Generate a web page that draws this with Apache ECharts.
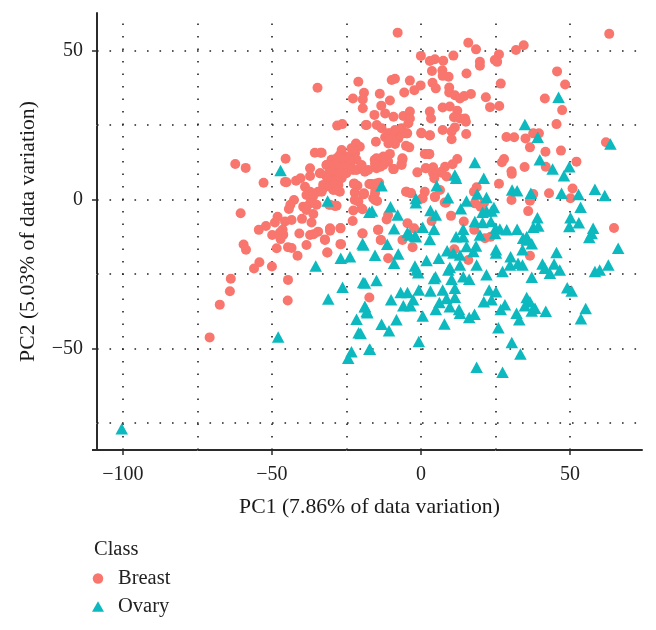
<!DOCTYPE html>
<html><head><meta charset="utf-8">
<style>html,body{margin:0;padding:0;background:#fff}#c{width:656px;height:630px}</style>
<script src="https://cdn.jsdelivr.net/npm/echarts@6/dist/echarts.min.js"></script>
</head><body><div id="c"></div>
<script>
const breast = [
[-34.7,37.5],[-21,39.5],[-19.1,35.8],[-22.8,33.9],[-19.5,33.6],[-19.5,30.6],[-28.1,24.8],[-26.4,25.3],[-18.5,25],[-62.3,11.9],[-58.8,10.6],[-45.4,13.7],[-52.8,5.6],[-45.6,5.9],[-45.1,5.8],[-60.5,-4.6],[-35.6,15.7],[-33.7,15.7],[-37.2,10.5],[-37.2,7.9],[-41.9,6.3],[-40.4,7.1],[-38.9,4.3],[-37.2,2.6],[-38.4,1.5],[-36.2,1],[-34.5,2.6],[-33.9,8.8],[-31.7,11.6],[-29.9,13.3],[-26.6,16.6],[-21.8,18.8],[-20.5,17.7],[-23.3,17.2],[-27.2,14.9],[-24.9,14.4],[-22.1,15.5],[-28.3,12.1],[-26.1,12.1],[-23.8,11.6],[-21.6,13.3],[-30.5,9.9],[-28.3,9.9],[-26.1,10.1],[-22.7,9.9],[-19.9,10.5],[-17.7,9.9],[-31.7,7.7],[-28.9,7.1],[-26.6,7.1],[-30.5,5.4],[-27.7,4.9],[-32.8,3.7],[-29.4,3.2],[-27.2,2.6],[-22.5,5.2],[-21.3,4.6],[-17.3,5.2],[-22.2,2.3],[-19.1,1.8],[-22.2,-0.2],[-21,-0.7],[-19.6,-3.3],[-22.7,-3.7],[-22.9,-7.2],[-19.6,-11.4],[-42.6,-0.2],[-43.8,-1.8],[-44.3,-3.2],[-39.5,-2.4],[-37.2,-1.3],[-35,-1.8],[-38.4,-3.5],[-36.1,-4.9],[-48.1,-5.8],[-49,-7.7],[-45.6,-7.4],[-43.4,-6.9],[-39.9,-6.5],[-36.7,-7.7],[-54.4,-10.2],[-52,-8.9],[-46.4,-10.2],[-47.3,-11.1],[-49.9,-11.9],[-40.8,-11.4],[-37.2,-11.9],[-34.5,-10.8],[-36,-11.7],[-30.5,-9.7],[-30.5,-10.5],[-27,-9.7],[-32.2,-13.4],[-30.8,-1.8],[-28.3,-2.1],
[-46.2,-11.8],[-47.1,-13.3],[-27,-15],[-48.4,-16.4],[-44.6,-16],[-43.4,-16.3],[-38.4,-15.3],[-41.4,-18.9],[-31.4,-17.8],[-59.5,-15.1],[-58.7,-16.9],[-54.2,-21.1],[-56,-23.2],[-50,-22.5],[-44.6,-27],[-63.8,-26.6],[-64.1,-30.8],[-67.5,-35.3],[-44.7,-33.9],[-70.9,-46.3],[-17.3,-32.9],
[-15.1,19.4],[-22.6,16.6],[-10.4,22.2],[-8.2,22.2],[-5.9,22.2],[-4.6,22.2],[-12,20.9],[-9.8,20.5],[-7.6,20.5],[-8.7,18.6],[-10.9,18.8],[-5,18],[-3.9,17.5],[0.2,22.2],[3,21.6],[1.9,15.3],[2.8,15.2],[-33.3,15.7],[-30,13.3],[-28.3,13.8],[-26,13.3],[-23.8,13.3],[-31.6,11.6],[-28.9,11.6],[-26,11],[-23.3,10.5],[-21.6,9.9],[-14.9,10.5],[-15.5,13.3],[-13.2,13.8],[-10.4,15.3],[-11,12.7],[-12.6,11.6],[-9.1,10.2],[-6.2,13.3],[-6.5,11.6],[-1.2,9.1],[1.7,10.5],[4.1,10.8],[6.9,9.3],[8.1,11],[-33.7,8.8],[-30.5,9.3],[-27.7,8.8],[-25,8.8],[-31.1,7.1],[-28.3,6.5],[-32.8,4.9],[-30.5,4.3],[-28.9,4.9],[-33.3,2.6],[-28.3,3.2],[-22.4,5.4],[-16.9,5.2],[-14,5.6],[-19.1,2.1],[-15.3,3.2],[-16,0.4],[-14.7,-0.5],[-19.9,-3],[-30.5,-1.8],[-28.9,-2.2],[-30.5,-9.9],[-32.2,-13.6],[-19.6,-11.4],[-14.4,-10.2],[-13.4,-13.6],[-11,-19.7],[-4.8,2.6],[-3.5,2.1],[1.3,2.6],[0.6,0.4],[4.7,0.9],[8.4,-1.1],
[-7.8,56],[63.2,55.6],[15.9,52.6],[18.5,50.4],[0,48.2],[10.9,48.3],[4.7,47.1],[3,46.5],[7.5,46.6],[31.9,50.2],[34.5,51.8],[26.2,48.7],[24.8,46.8],[25.6,46.2],[19.8,46.2],[19.8,44.9],[3.7,43.1],[7.2,43.4],[7.3,41.5],[9.3,41.2],[15.3,42.3],[45.7,43],[-9.8,40.1],[-8.7,40.5],[-3.7,39.9],[3.9,39.2],[5,37.3],[-0.1,38.3],[-2.2,36.7],[-5.6,35.9],[-13.8,35.5],[9.5,37.6],[9.5,35.9],[11.4,35],[13.1,33.9],[14.5,34.7],[16.8,35.4],[26.8,38.9],[48.4,38.6],[21.8,34.3],[41.6,33.9],[-10.4,33.2],[-13.3,31.5],[23.2,31],[26.3,31.4],[47.4,30],[-15.6,28.4],[-12,28.9],[-9.2,27.8],[-5.9,28],[-3.7,29.5],[-3.7,27.2],[-4.2,25.6],[3,29.5],[3.4,27.2],[7.3,30.9],[9.7,31.2],[12.2,29.8],[11.1,27.6],[13.1,27.2],[14.8,27.2],[15.1,26.1],[-18.2,25],[-14.8,25],[-13.2,23.9],[-11,22.2],[-8.7,23.3],[-6.5,23.9],[-4.8,22.2],[-9.8,20.5],[0.1,22.4],[3,21.5],[7.3,23.3],[11.4,24.2],[10.3,22.8],[10.3,20.2],[15.2,22],[45.5,25.3],[28.7,21],[31.3,20.9],[35.1,20.5],[37.7,22.2],[39.6,22.2],[36.6,17.5],[41.8,16],[47,16.4],[62.1,19.2],[1.3,15.3],[2.8,15.3],[12.2,13.6],[10.6,11.8],[27.9,13.6],[27.2,12.5],[34.8,10.9],[30.4,9.5],[30.5,8.6],[41.9,11],[52.2,12.7],[-6.2,13.8],[-6.5,11.9],[-9.3,10.2],[-12.6,14.4],[-14.9,13.8],[-15.4,11.9],[-13.6,11],[1.6,10.5],[4.1,8.8],[6.9,9],[4.5,7.1],[8.6,7.7],[26.2,5.3],[18.7,4.1],[17.8,2.6],[-5,2.6],[-3.3,2.2],[6.4,3.2],[4.7,0.8],[0.4,0.3],[8,-1],[43,2.1],[50.9,3.7],[50.2,0.4],[30.4,-0.2],[37.7,1.8],[36.6,-0.4],[36,-3.9],[18.1,-1.3],[20,-2.4],[21.2,-1.1],[10.1,-5.5],[-11,-5.2],[-11.5,-6.7],[-4.5,-8],[-2.3,-9.7],[3.6,-7.2],[14.4,-7.4],[17.9,-10.2],[64.8,-9.6],[-14.3,-10.2],[-16.6,5.2],[-14.9,5.4],[-19.4,1.7],[-15.4,2.1],[-15.4,-0.2],[-19.9,11.6],[-18.8,9.3],
[-13.5,-13.6],[-6.2,-13.6],[-2.8,-16],[11.2,-16.7],[15.9,-20.3],[36.6,-18.9],[21.5,-13],[23.4,-12.5],[-26.8,-15],[-31.4,-17.8],[-27,-9.6]
];
const ovary = [
[-100.4,-77],[-47.9,-46.2],[-35.3,-22.3],[-31.1,-33.4],[-26.9,-19.7],[-23.8,-19.2],[-19.6,-14.9],[-26.3,-29.5],[-19.4,-27.9],[-18.8,-35.9],[-18.2,-37.6],[-21.6,-40.2],[-20.9,-44.7],[-23.3,-51.1],[-24.4,-53.3],[-17.3,-50.3],[-47.1,9.7],[-31.3,-0.5],[-17.3,-4.3],
[34.9,25.2],[46.2,34.3],[39.2,20.9],[63.6,18.6],[18.1,12.4],[11.4,8.2],[11.8,7.1],[21.1,7.1],[5.3,4.6],[-13.2,4.6],[39.9,13.3],[44.2,10.2],[49.8,11],[48,8],[30.6,3.2],[32.3,2.9],[36.9,2.1],[47.2,2.1],[52.9,1.7],[58.4,3.4],[61.7,1.3],[53.6,-2.6],[-1.7,0.3],[-1.7,-1.1],[9.1,0.6],[18.9,1.8],[22,0.7],[15.3,-0.5],[13.4,-3.1],[24.5,-2.7],[-16.4,-3.9],[-10.2,-2.4],[-7.8,-5.2],[3.2,-3.7],[5,-5.2],[22,-3.9],[23.7,-3.9],[20.7,-4.3],[18.1,-7.4],[20.7,-7.7],[23.5,-7.4],[39.1,-6.1],[39.4,-8.9],[37.7,-9.3],[50.2,-6.1],[49.8,-9.1],[53,-7.8],[57.8,-9.7],[57.3,-11.4],[-9,-9.8],[-4.5,-11.1],[0.6,-9.3],[4.4,-10],[14.2,-10],[25.1,-9.7],[26.5,-9.9],[28.8,-10.2],[32.3,-10],[11.8,-12.5],[19.8,-11.9],[24.9,-11.4],[34.3,-13],[35.5,-12.5],[56.5,-12.8],[-2,-12.3],[3,-13.4],[14.2,-12.5],
[66.2,-16.4],[45.5,-17.8],[62.9,-22],[60,-23.7],[58.4,-24.2],[46.6,-23.7],[44.7,-21.7],[40.8,-21.7],[43.3,-24.8],[41.6,-23.1],[37.2,-26.1],[34.1,-22],[32.6,-21.4],[30.1,-19.2],[29.9,-22],[27.4,-24.2],[25.2,-16.9],[25.2,-18],[34.1,-16.9],[35.5,-13.6],[37.2,-14.9],[22,-25.3],[18.7,-22],[18.5,-15.6],[17.6,-17.5],[15.3,-15.8],[13.1,-18.6],[10.9,-18],[8.8,-17.2],[6,-19.7],[13.1,-22],[9.7,-22.8],[9.2,-23.7],[1.9,-20.5],[-2,-22.3],[-1.5,-23.7],[-0.9,-24.6],[4.9,-25.9],[4.4,-26.5],[10.3,-26.8],[14.2,-25.9],[16.2,-26.8],[11.4,-29.8],[7.3,-30.4],[3.2,-30.7],[-0.7,-30.4],[-4.5,-31.2],[-6.8,-31.2],[22.9,-30.4],[25.2,-31],[23.7,-33.7],[21.1,-34.3],[11.4,-32.8],[8.6,-33.2],[6.2,-34.6],[-2.6,-33.7],[-10,-33.7],[-5.9,-35.7],[-3.5,-35.7],[9.7,-36],[5,-36.9],[12.8,-36.9],[13.1,-38.2],[28.2,-35.3],[26.8,-36.9],[0.6,-39.1],[16.2,-39.6],[18,-38.5],[7.9,-41.8],[35.5,-32.9],[36.6,-34.3],[34.9,-35.7],[38.3,-36.5],[37.2,-37.4],[41.9,-37.5],[32.1,-38.2],[33,-40.4],[26,-43.1],[-8.2,-40.4],[-13.2,-41.9],[-10.7,-44.1],[-20.2,-45],[-18.8,-28],[-14.9,-27.2],[-15.4,-18.7],[-11.3,-15],[-7.6,-18.3],[-9,-21.4],[-18.8,-36],[-18,-38],[-0.7,-47.7],[-17.1,-50.3],[30.5,-48],[33.4,-51.9],[18.7,-56.3],[27.4,-58],[49.1,-29.6],[50.6,-30.7],[55.3,-36.6],[53.7,-40],[-19.3,-15.3],[-3.7,-11.9],[-1.7,-12.5]
];
const xLabels = [-100,-50,0,50];
const yLabels = [-50,0,50];
const xMinorTicks = [-75,-25,25];
const yMinorTicks = [-75,-25,25];
const xGridLines = [-100,-75,-50,-25,0,25,50];
const yGridLines = [-75,-50,-25,0,25,50];
const classNames = ['Breast','Ovary'];
const serif = '"Liberation Serif", serif';
const inkC = '#2b2b2b';
const extentX = [-108.7,74.2], extentY = [-84.1,62.6];
const dotLine = {color:'#222', width:1.6, type:[1.6,10.9], cap:'butt', opacity:1};
function gridAxis(ext,pos,ticks){return {type:'value', position:pos, min:ext[0], max:ext[1], axisLine:{show:false,onZero:false},
  axisTick:{show:true,length:1,customValues:ticks,lineStyle:{color:'#777',width:1}}, axisLabel:{show:false,customValues:ticks}, splitLine:{show:false}};}
function mainAxis(ext,pos,labels,name,gap,margin){return {type:'value', position:pos, min:ext[0], max:ext[1],
  name, nameLocation:'middle', nameGap:gap, nameTextStyle:{fontFamily:serif,fontSize:21.7,color:'#1a1a1a'},
  axisLine:{show:true,onZero:false,lineStyle:{color:inkC,width:2}},
  axisTick:{show:true,length:5,customValues:labels,lineStyle:{color:inkC,width:1.5}},
  axisLabel:{fontFamily:serif,fontSize:20,color:'#222',margin:margin,customValues:labels,
    formatter:v=>String(v).replace('-','\u2212')},
  splitLine:{show:false}};}
const chart = echarts.init(document.getElementById('c'),null,{renderer:'canvas'});
chart.setOption({
  animation:false, backgroundColor:'#fff',
  grid:{left:97,right:14,top:13,bottom:180,containLabel:false,outerBoundsMode:'none'},
  xAxis:[gridAxis(extentX,'bottom',xMinorTicks),mainAxis(extentX,'bottom',xLabels,'PC1 (7.86% of data variation)',46,15)],
  yAxis:[gridAxis(extentY,'left',yMinorTicks),mainAxis(extentY,'left',yLabels,'PC2 (5.03% of data variation)',58,14)],
  title:{text:'Class',left:94,top:539,textStyle:{fontFamily:serif,fontSize:20.5,fontWeight:'normal',color:'#222'},padding:0},
  legend:{orient:'vertical',left:92,top:568,padding:0,itemWidth:12,itemHeight:10.5,itemGap:7,
    textStyle:{fontFamily:serif,fontSize:20.5,color:'#222',padding:[0,0,0,9]},
    data:[{name:classNames[0],icon:'circle'},{name:classNames[1],icon:'triangle'}]},
  series:[
    {name:'grid',type:'scatter',xAxisIndex:1,yAxisIndex:1,data:[],z:1,silent:true,
     markLine:{z:1,silent:true,animation:false,symbol:'none',label:{show:false},lineStyle:dotLine,emphasis:{disabled:true},
       data:xGridLines.map(v=>({xAxis:v})).concat(yGridLines.map(v=>({yAxis:v})))}},
    {name:classNames[0],type:'scatter',xAxisIndex:1,yAxisIndex:1,data:breast,symbol:'circle',symbolSize:10,
     itemStyle:{color:'#F8766D',opacity:1},z:10},
    {name:classNames[1],type:'scatter',xAxisIndex:1,yAxisIndex:1,data:ovary,symbol:'triangle',symbolSize:[12.5,11.5],
     itemStyle:{color:'#0CB9BF',opacity:1},z:11}
  ],
  graphic:[{type:'line',shape:{x1:92,y1:450,x2:98,y2:450},style:{stroke:inkC,lineWidth:2},silent:true}]
});
</script></body></html>
